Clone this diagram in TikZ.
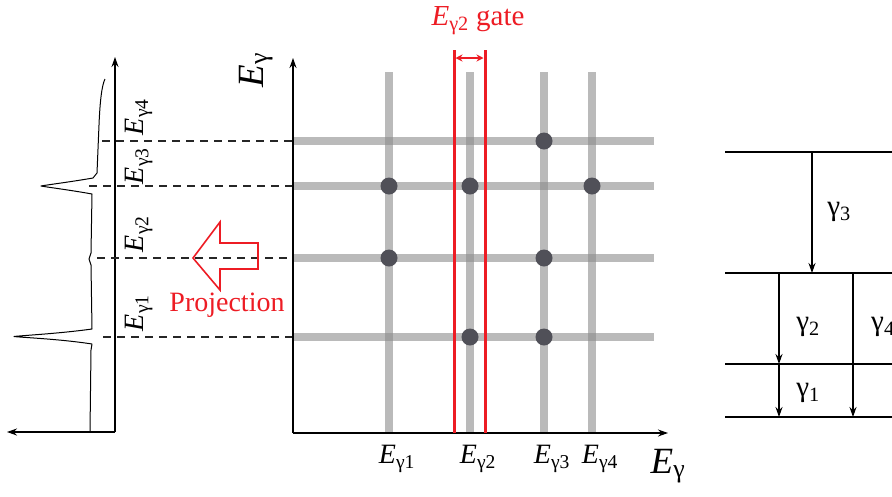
\documentclass[tikz,border=0pt]{standalone}
\usepackage{fontspec}
\setmainfont{Liberation Serif}
\usetikzlibrary{arrows.meta}
\definecolor{myred}{RGB}{237,28,36}
\definecolor{dotgray}{RGB}{80,80,88}
\definecolor{linegray}{RGB}{140,140,140}
\newcommand{\Eg}[1]{\textit{E}\textsubscript{γ#1}}
\tikzset{
  axis/.style={line width=1.1pt,-{Stealth[length=10pt,width=7pt]}},
  dash line/.style={line width=1.1pt,black!85,dash pattern=on 8pt off 6pt},
  band/.style={line width=8pt,linegray,opacity=0.6},
  peakdot/.style={circle,fill=dotgray,inner sep=0pt,minimum size=17pt},
  lbl/.style={font=\fontsize{28}{30}\selectfont,inner sep=0pt},
  biglbl/.style={font=\fontsize{37}{40}\selectfont,inner sep=0pt},
  gamlbl/.style={font=\fontsize{29}{32}\selectfont,inner sep=0pt},
  level/.style={line width=1.1pt},
  trans/.style={line width=1.1pt,-{Stealth[length=10pt,width=7pt]}},
  gate/.style={line width=3pt,myred},
}
\begin{document}
\begin{tikzpicture}[x=1pt,y=-1pt]
\useasboundingbox (0,0) rectangle (892,496);
% ---------- left projection spectrum ----------
\coordinate (lo) at (115,432);
\coordinate (ltop) at (115,57);
\coordinate (lleft) at (7,432);
\draw[axis] (lo) -- (ltop);
\draw[axis] (lo) -- (lleft);
\draw[line width=1pt,line join=round]
  (90,432) -- (91,350) -- (92,344)
  .. controls (60,339) and (22,337.5) .. (14,336.5)
  .. controls (22,335.5) and (60,333.5) .. (92,329)
  -- (91,265) -- (89,259) -- (91,253) -- (92,194)
  .. controls (70,190) and (46,187) .. (41,186)
  .. controls (46,185) and (70,182) .. (93,178)
  -- (97,173) -- (99,125) .. controls (100,100) and (102,85) .. (105,79);
% dashed projection lines
\coordinate (d4a) at (102,141); \coordinate (d4b) at (293,141);
\coordinate (d3a) at (89,186);  \coordinate (d3b) at (293,186);
\coordinate (d2a) at (97,258);  \coordinate (d2b) at (293,258);
\coordinate (d1a) at (103,337); \coordinate (d1b) at (293,337);
\draw[dash line] (d4a) -- (d4b);
\draw[dash line] (d3a) -- (d3b);
\draw[dash line] (d2a) -- (d2b);
\draw[dash line] (d1a) -- (d1b);
\node[lbl,rotate=90] (l4) at (139,117) {\Eg{4}};
\node[lbl,rotate=90] (l3) at (139,166) {\Eg{3}};
\node[lbl,rotate=90] (l2) at (139,234) {\Eg{2}};
\node[lbl,rotate=90] (l1) at (139,313) {\Eg{1}};
% projection arrow
\draw[myred,line width=1.6pt,line join=miter]
  (193,258) -- (220,222) -- (220,243) -- (258,243) -- (258,269) -- (220,269) -- (220,290) -- cycle;
\node[font=\fontsize{28}{30}\selectfont,text=myred,inner sep=0pt] (proj) at (227,305) {Projection};
% ---------- main matrix ----------
\coordinate (o) at (293,433);
\coordinate (ytop) at (293,58);
\coordinate (xend) at (668,433);
% bands
\foreach \x [count=\i] in {389,470,544,592}{
  \coordinate (vb\i) at (\x,72); \coordinate (vt\i) at (\x,433);
  \draw[band] (vb\i) -- (vt\i);
}
\foreach \y [count=\i] in {337,258,186,141}{
  \coordinate (hl\i) at (293,\y); \coordinate (hr\i) at (654,\y);
  \draw[band] (hl\i) -- (hr\i);
}
% dots
\node[peakdot] (p1) at (544,141) {};
\node[peakdot] (p2) at (389,186) {};
\node[peakdot] (p3) at (470,186) {};
\node[peakdot] (p4) at (592,186) {};
\node[peakdot] (p5) at (389,258) {};
\node[peakdot] (p6) at (544,258) {};
\node[peakdot] (p7) at (470,337) {};
\node[peakdot] (p8) at (544,337) {};
% axes
\draw[axis] (o) -- (ytop);
\draw[axis] (o) -- (xend);
\node[biglbl,rotate=90] (ylab) at (256,70) {\textit{E}\textsubscript{γ}};
\node[biglbl] (xlab) at (668,466) {\textit{E}\textsubscript{γ}};
\node[lbl] (b1) at (397,459) {\Eg{1}};
\node[lbl] (b2) at (478,459) {\Eg{2}};
\node[lbl] (b3) at (552,459) {\Eg{3}};
\node[lbl] (b4) at (600,459) {\Eg{4}};
% gate
\coordinate (g1t) at (454,50); \coordinate (g1b) at (454,433);
\coordinate (g2t) at (485,50); \coordinate (g2b) at (485,433);
\draw[gate] (g1t) -- (g1b);
\draw[gate] (g2t) -- (g2b);
\coordinate (ga) at (455.5,58); \coordinate (gb) at (483.5,58);
\draw[myred,line width=1.6pt,{Stealth[length=7pt,width=7pt]}-{Stealth[length=7pt,width=7pt]}] (ga) -- (gb);
\node[font=\fontsize{29}{32}\selectfont,inner sep=0pt,text=myred] (gatelbl) at (478,21) {\Eg{2} gate};
% ---------- level scheme ----------
\coordinate (L3a) at (725,152); \coordinate (L3b) at (900,152);
\coordinate (L2a) at (725,273); \coordinate (L2b) at (900,273);
\coordinate (L1a) at (725,364); \coordinate (L1b) at (900,364);
\coordinate (L0a) at (725,417); \coordinate (L0b) at (900,417);
\draw[level] (L3a) -- (L3b);
\draw[level] (L2a) -- (L2b);
\draw[level] (L1a) -- (L1b);
\draw[level] (L0a) -- (L0b);
\coordinate (t3s) at (812,152); \coordinate (t3e) at (812,273);
\coordinate (t2s) at (779,273); \coordinate (t2e) at (779,364);
\coordinate (t1s) at (779,364); \coordinate (t1e) at (779,417);
\coordinate (t4s) at (853,273); \coordinate (t4e) at (853,417);
\draw[trans] (t3s) -- (t3e);
\draw[trans] (t2s) -- (t2e);
\draw[trans] (t1s) -- (t1e);
\draw[trans] (t4s) -- (t4e);
\node[gamlbl] (g3) at (839,212) {γ\textsubscript{3}};
\node[gamlbl] (g2) at (808,327) {γ\textsubscript{2}};
\node[gamlbl] (gg1) at (808,393) {γ\textsubscript{1}};
\node[gamlbl,anchor=west] (g4) at (871,327) {γ\textsubscript{4}};
\end{tikzpicture}
\end{document}
